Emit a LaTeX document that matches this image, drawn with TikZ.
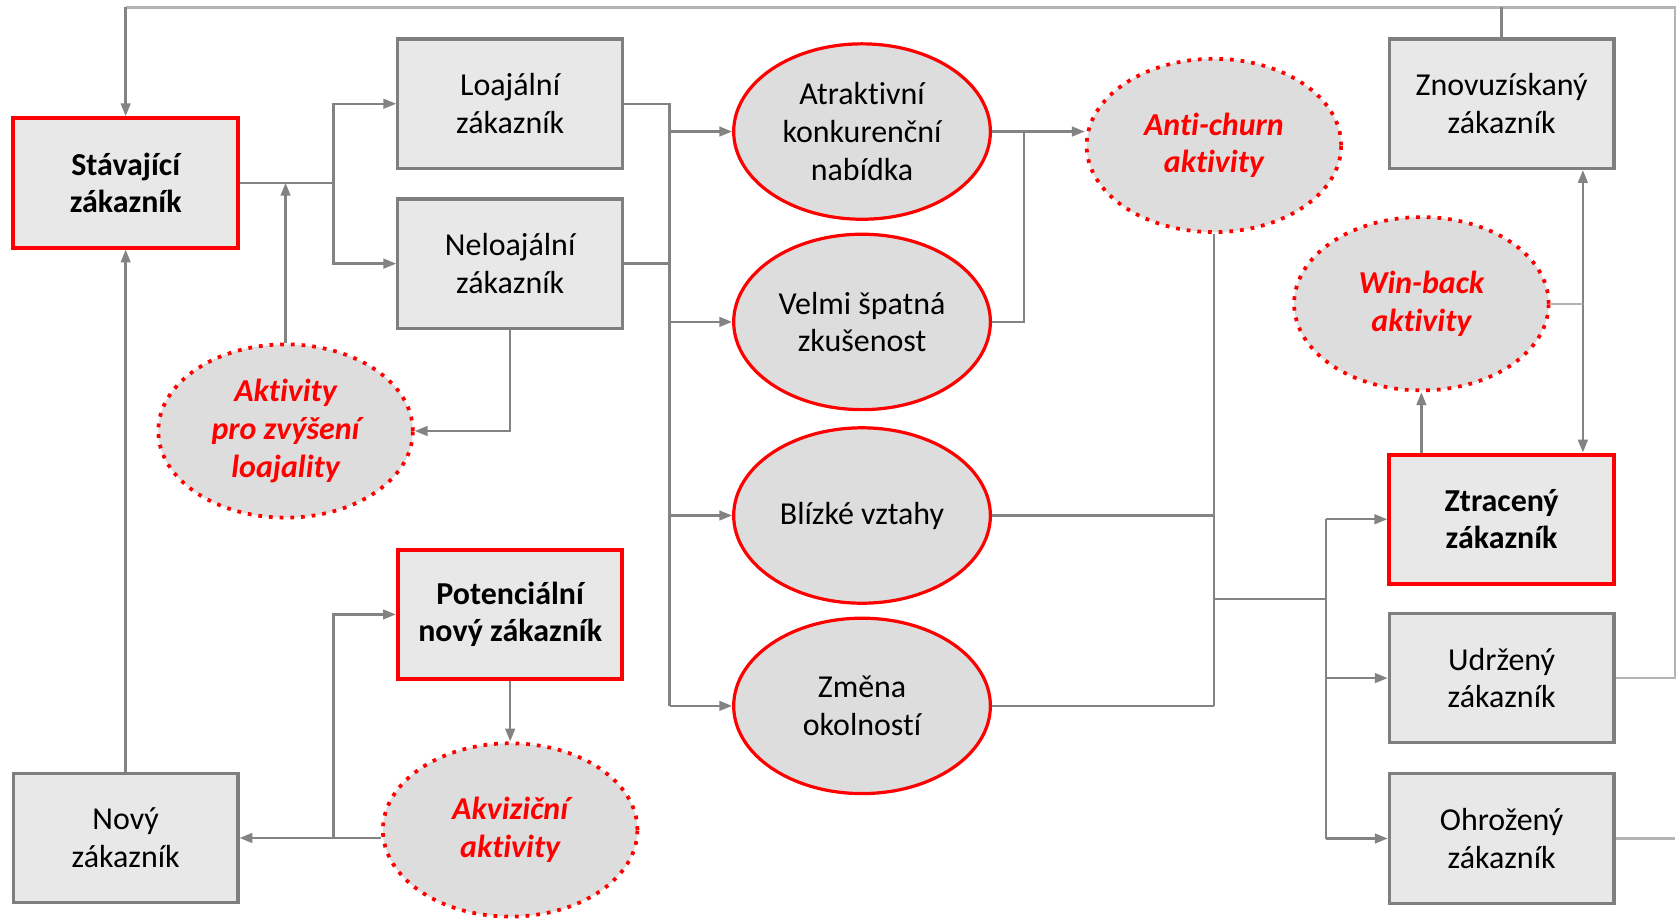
\documentclass[tikz,border=0pt]{standalone}
\usepackage{fontspec}
\setmainfont{Carlito}[Ligatures=NoCommon]
\usetikzlibrary{arrows.meta,calc,shapes.geometric}
\definecolor{boxgray}{HTML}{7F7F7F}
\definecolor{boxfill}{HTML}{E8E8E8}
\definecolor{ovalfill}{HTML}{DDDDDD}
\definecolor{linegray}{HTML}{838383}
\definecolor{lightline}{HTML}{B4B4B4}
\definecolor{redline}{HTML}{FF0000}
\tikzset{
  custbox/.style={draw=boxgray,line width=0.6mm,fill=boxfill,minimum width=42mm,minimum height=24.2mm,
    align=center,inner sep=0pt,font=\fontsize{17}{20}\selectfont},
  keybox/.style={custbox,draw=redline,line width=0.75mm,font=\fontsize{17}{20}\selectfont\bfseries},
  reason/.style={ellipse,draw=redline,line width=0.6mm,fill=ovalfill,minimum width=48mm,minimum height=32.8mm,
    align=center,inner sep=0pt,font=\fontsize{17}{20}\selectfont},
  activ/.style={ellipse,draw=redline,line width=0.7mm,dash pattern=on 0.7mm off 1.3mm,fill=ovalfill,
    minimum width=47.6mm,minimum height=32.4mm,align=center,inner sep=0pt,text=redline,
    font=\fontsize{17}{20}\selectfont\bfseries\itshape},
  wire/.style={draw=linegray,line width=0.45mm},
  backwire/.style={draw=lightline,line width=0.45mm},
  flow/.style={wire,-{Triangle[length=2.4mm,width=1.8mm]}},
  twoway/.style={wire,{Triangle[length=2.4mm,width=1.8mm]}-{Triangle[length=2.4mm,width=1.8mm]}},
}
\begin{document}
\begin{tikzpicture}[x=0.2mm,y=-0.2mm]
\fill[white] (0,0) rectangle (1568,860);
\useasboundingbox (0,0) rectangle (1568,860);

% customers
\node[keybox] (stav) at (117.5,171) {Stávající\\zákazník};
\node[custbox] (loaj) at (477,97) {Loajální\\zákazník};
\node[custbox] (neloaj) at (477,246.5) {Neloajální\\zákazník};
\node[keybox] (potenc) at (477,574.5) {Potenciální\\nový zákazník};
\node[custbox] (novy) at (117.5,783.5) {Nový\\zákazník};
\node[custbox] (znovu) at (1404,97) {Znovuzískaný\\zákazník};
\node[keybox] (ztrac) at (1404,485.5) {Ztracený\\zákazník};
\node[custbox] (udrz) at (1404,634) {Udržený\\zákazník};
\node[custbox] (ohroz) at (1404,784) {Ohrožený\\zákazník};

% reasons
\node[reason] (atrakt) at (806,123) {Atraktivní\\konkurenční\\nabídka};
\node[reason] (spatna) at (806,301) {Velmi špatná\\zkušenost};
\node[reason] (vztahy) at (806,482) {Blízké vztahy};
\node[reason] (zmena) at (806,660) {Změna\\okolností};

% activities
\node[activ] (antichurn) at (1135,136) {Anti-churn\\aktivity};
\node[activ] (winback) at (1329,284) {Win-back\\aktivity};
\node[activ] (loajalita) at (267,403) {Aktivity\\pro zvýšení\\loajality};
\node[activ] (akvizice) at (477,776) {Akviziční\\aktivity};

% return loop
\coordinate (rtop) at (1566,7);
\draw[backwire] (udrz.east) -| (rtop) -- (stav.north |- rtop);
\draw[backwire] (ohroz.east) -- (ohroz.east -| rtop);
\draw[wire] (znovu.north) -- (znovu.north |- rtop);
\draw[flow] (stav.north |- rtop) -- (stav.north);

% existing customer
\coordinate (split) at (312,171);
\draw[wire] (stav.east) -- (split);
\draw[flow] (split) |- (loaj.west);
\draw[flow] (split) |- (neloaj.west);
\draw[flow] (loajalita.north) -- (loajalita.north |- split);
\draw[flow] (neloaj.south) |- (loajalita.east);

% reasons bus
\coordinate (bus) at (626,97);
\draw[wire] (loaj.east) -- (bus) -- (bus |- zmena.west);
\draw[wire] (neloaj.east) -- (neloaj.east -| bus);
\foreach \e in {atrakt,spatna,vztahy,zmena}
{
	\draw[flow] (bus |- \e.west) -- (\e.west);
}
\draw[flow] (atrakt.east) -- (atrakt.east -| antichurn.west);
\draw[wire] (spatna.east) -| ($(atrakt.east)+(30,0)$);

% outcomes
\coordinate (fork) at (1240,560);
\draw[wire] (antichurn.south) -- (antichurn.south |- zmena.east);
\draw[wire] (vztahy.east) -- (vztahy.east -| antichurn.south);
\draw[wire] (zmena.east) -- (zmena.east -| antichurn.south);
\draw[wire] (antichurn.south |- fork) -- (fork);
\draw[wire] (fork |- ztrac.west) -- (fork |- ohroz.west);
\foreach \b in {ztrac,udrz,ohroz}
{
	\draw[flow] (fork |- \b.west) -- (\b.west);
}

% win-back
\coordinate (ret) at (1480,0);
\draw[flow] (winback.south |- ztrac.north) -- (winback.south);
\draw[twoway] (znovu.south -| ret) -- (ztrac.north -| ret);
\draw[backwire] (winback.east) -- (winback.east -| ret);

% acquisition
\draw[flow] (potenc.south) -- (akvizice.north);
\draw[flow] (akvizice.west |- novy.east) -- (novy.east);
\draw[flow] (novy.east -| split) |- (potenc.west);
\draw[flow] (novy.north) -- (stav.south);
\end{tikzpicture}
\end{document}
